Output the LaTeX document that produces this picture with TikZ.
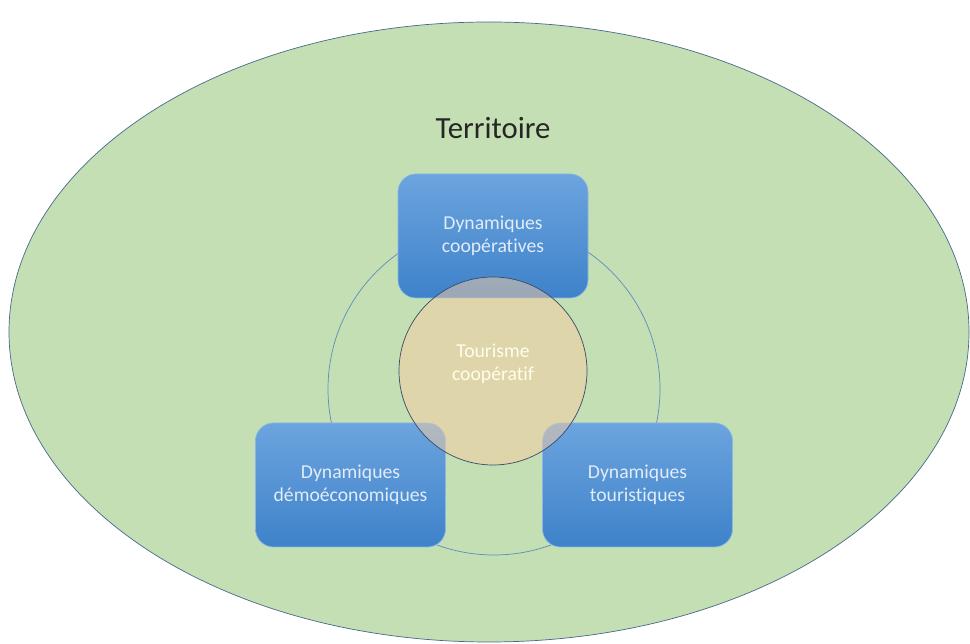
\documentclass[tikz,border=0pt]{standalone}
\usepackage{fontspec}
\setmainfont[Ligatures=NoCommon]{Carlito}
\usetikzlibrary{shapes,positioning,calc}
\definecolor{terrgreen}{RGB}{196,223,179}
\definecolor{terrline}{RGB}{70,105,140}
\definecolor{ringblue}{RGB}{95,140,190}
\definecolor{boxtop}{RGB}{108,164,222}
\definecolor{boxbottom}{RGB}{62,130,202}
\definecolor{boxtext}{RGB}{225,236,248}
\definecolor{tourfill}{RGB}{250,205,163}
\definecolor{tourline}{RGB}{55,75,105}

\begin{document}
\begin{tikzpicture}[
    dynbox/.style={rectangle, rounded corners=0.36cm, minimum width=3.8cm, minimum height=2.48cm,
        top color=boxtop, bottom color=boxbottom, draw=boxtop!80!white, thin,
        text=boxtext, font=\fontsize{11.2}{13.2}\selectfont, align=center}
]
    \useasboundingbox (0,0) rectangle (19.4,12.88);

    % Territory
    \node[ellipse, draw=terrline, fill=terrgreen, minimum width=19.2cm, minimum height=12.4cm] (territoire) at (9.78,6.24) {};
    \node[font=\fontsize{17.5}{20}\selectfont, text=black!85] (terrlabel) at (9.86,10.32) {Territoire};

    % Ring
    \node[circle, draw=ringblue, minimum size=6.64cm] (ring) at (9.88,5.10) {};

    % Dynamics
    \node[dynbox] (coop) at (9.86,8.16) {Dynamiques\\coopératives};
    \node[dynbox] (demo) at (7.01,3.18) {Dynamiques\\démoéconomiques};
    \node[dynbox] (tour) at (12.75,3.18) {Dynamiques\\touristiques};

    % Cooperative tourism
    \node[circle, draw=tourline, fill=tourfill, fill opacity=0.5, text opacity=1, minimum size=3.76cm] (tourisme) at (9.86,5.46) {};
    \node[text=white!92!yellow, font=\fontsize{11.2}{13.2}\selectfont, align=center] (tourlabel) at (9.86,5.6) {Tourisme\\coopératif};
\end{tikzpicture}
\end{document}
